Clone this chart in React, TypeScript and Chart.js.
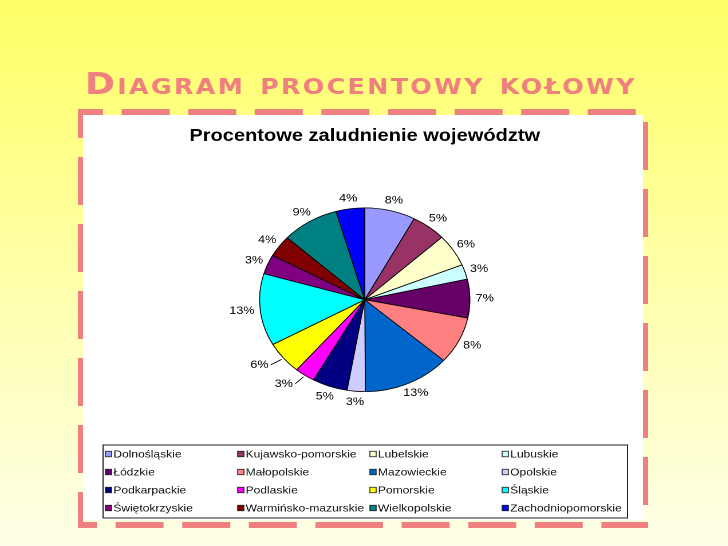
import React, { useEffect, useRef } from "react";
import { Chart, registerables } from "chart.js";

Chart.register(...registerables);

const pageHeading = "Diagram procentowy kołowy";
const chartTitle = "Procentowe zaludnienie województw";

const regions = [
  "Dolnośląskie",
  "Kujawsko-pomorskie",
  "Lubelskie",
  "Lubuskie",
  "Łódzkie",
  "Małopolskie",
  "Mazowieckie",
  "Opolskie",
  "Podkarpackie",
  "Podlaskie",
  "Pomorskie",
  "Śląskie",
  "Świętokrzyskie",
  "Warmińsko-mazurskie",
  "Wielkopolskie",
  "Zachodniopomorskie",
];

const sharePercent = [7.8, 5.3, 5.7, 2.6, 6.8, 8.3, 13.4, 2.8, 5.4, 3.1, 5.7, 12.7, 3.4, 3.8, 8.8, 4.4];

const sliceColors = [
  "#9999ff",
  "#993366",
  "#ffffcc",
  "#ccffff",
  "#660066",
  "#ff8080",
  "#0066cc",
  "#ccccff",
  "#000080",
  "#ff00ff",
  "#ffff00",
  "#00ffff",
  "#800080",
  "#800000",
  "#008080",
  "#0000ff",
];

const leaderLabelRegions = ["Podlaskie", "Pomorskie"];

const LABEL_FONT = "11px 'Liberation Sans', Arial, sans-serif";
const LEGEND_FONT = "10.5px 'Liberation Sans', Arial, sans-serif";

const pieLabelsPlugin = {
  id: "pieLabels",
  afterDatasetsDraw(chart: any) {
    const ctx = chart.ctx;
    const meta = chart.getDatasetMeta(0);
    const values = chart.data.datasets[0].data as number[];
    const labels = chart.data.labels as string[];
    ctx.save();
    ctx.font = LABEL_FONT;
    ctx.fillStyle = "#000";
    ctx.strokeStyle = "#000";
    ctx.lineWidth = 0.8;
    ctx.textAlign = "center";
    ctx.textBaseline = "middle";
    meta.data.forEach((arc: any, i: number) => {
      const p = arc.getProps(["x", "y", "startAngle", "endAngle", "outerRadius"], true);
      const mid = (p.startAngle + p.endAngle) / 2;
      const c = Math.cos(mid);
      const s = Math.sin(mid);
      const text = Math.round(values[i]) + "%";
      const w = ctx.measureText(text).width;
      const h = 11;
      const gap = 5;
      let tx = p.x + c * (p.outerRadius + gap) + (c * w) / 2;
      const ty = p.y + s * (p.outerRadius + gap) + (s * h) / 2;
      if (leaderLabelRegions.includes(labels[i])) {
        const dir = Math.sign(c) || 1;
        tx += dir * 11;
        const ex = p.x + c * (p.outerRadius + 2);
        const ey = p.y + s * (p.outerRadius + 2);
        ctx.beginPath();
        ctx.moveTo(tx - dir * (w / 2 + 2), ty);
        ctx.lineTo(ex, ey);
        ctx.stroke();
      }
      ctx.fillText(text, tx, ty);
    });
    ctx.restore();
  },
};

const gridLegendPlugin = {
  id: "gridLegend",
  afterDraw(chart: any, _args: any, opts: any) {
    const ctx = chart.ctx;
    const labels = chart.data.labels as string[];
    const colors = chart.data.datasets[0].backgroundColor as string[];
    const { x, y, w, h, cols, colW, rowH, firstRow, marker } = opts;
    ctx.save();
    ctx.strokeStyle = "#222";
    ctx.lineWidth = 1;
    ctx.strokeRect(x, y, w, h);
    ctx.font = LEGEND_FONT;
    ctx.textAlign = "left";
    ctx.textBaseline = "middle";
    labels.forEach((lab, i) => {
      const col = i % cols;
      const row = Math.floor(i / cols);
      const mx = x + 2 + col * colW;
      const my = y + firstRow + row * rowH;
      ctx.fillStyle = colors[i];
      ctx.fillRect(mx, my - marker / 2, marker, marker);
      ctx.strokeStyle = "#222";
      ctx.lineWidth = 0.8;
      ctx.strokeRect(mx, my - marker / 2, marker, marker);
      ctx.fillStyle = "#111";
      ctx.fillText(lab, mx + marker + 1.5, my + 0.5);
    });
    ctx.restore();
  },
};

export default function App() {
  const canvasRef = useRef<HTMLCanvasElement | null>(null);

  useEffect(() => {
    if (!canvasRef.current) return;
    const chart = new Chart(canvasRef.current, {
      type: "pie",
      data: {
        labels: regions,
        datasets: [
          {
            data: sharePercent,
            backgroundColor: sliceColors,
            borderColor: "#000",
            borderWidth: 0.8,
            hoverOffset: 0,
            offset: 0,
          },
        ],
      },
      options: {
        responsive: false,
        devicePixelRatio: 2,
        animation: false,
        events: [],
        layout: { padding: { top: 0, bottom: 128, left: 3, right: 0 } },
        plugins: {
          legend: { display: false },
          tooltip: { enabled: false },
          title: {
            display: true,
            text: chartTitle,
            color: "#000",
            font: { family: "'Liberation Sans', Arial, sans-serif", size: 17.5, weight: "bold" },
            padding: { top: 10.5, bottom: 61 },
          },
          gridLegend: { x: 17.5, y: 330, w: 458, h: 73, cols: 4, colW: 115.5, rowH: 18, firstRow: 9, marker: 5.5 },
        } as any,
      },
      plugins: [pieLabelsPlugin, gridLegendPlugin],
    });
    return () => chart.destroy();
  }, []);

  return (
    <div
      style={{
        position: "fixed",
        left: 0,
        top: 0,
        width: 728,
        height: 546,
        overflow: "hidden",
        background: "linear-gradient(to bottom, #ffff66 0%, #ffff80 20%, #ffffb0 55%, #ffffe8 100%)",
      }}
    >
      <div
        style={{
          position: "absolute",
          left: 85,
          top: 69,
          fontFamily: "'DejaVu Sans', sans-serif",
          fontWeight: 700,
          fontSize: 30,
          lineHeight: "30px",
          fontVariant: "small-caps",
          letterSpacing: 2,
          color: "#f08080",
          whiteSpace: "nowrap",
          transform: "scaleX(1.2)",
          transformOrigin: "0 0",
        }}
      >
        {pageHeading}
      </div>
      <div style={{ position: "absolute", left: 83, top: 115, width: 560, height: 405, background: "#fff" }} />
      <canvas
        ref={canvasRef}
        width={489}
        height={405}
        style={{ position: "absolute", left: 83, top: 115, width: "560px", height: "405px" }}
      />
      <svg width={728} height={546} style={{ position: "absolute", left: 0, top: 0 }}>
        <g stroke="#f08080" fill="none">
          <line x1={78} y1={112} x2={648} y2={112} strokeWidth={6} strokeDasharray="48 18.6" strokeDashoffset={23} />
          <line x1={78} y1={525} x2={350} y2={525} strokeWidth={6} strokeDasharray="48 18.6" strokeDashoffset={29} />
          <line x1={335} y1={525} x2={648} y2={525} strokeWidth={6} strokeDasharray="48 18.6" strokeDashoffset={0} />
          <line x1={80.5} y1={109} x2={80.5} y2={528} strokeWidth={5} strokeDasharray="48 19" strokeDashoffset={19} />
          <line x1={645.5} y1={109} x2={645.5} y2={528} strokeWidth={5} strokeDasharray="48 19" strokeDashoffset={54} />
        </g>
      </svg>
    </div>
  );
}
